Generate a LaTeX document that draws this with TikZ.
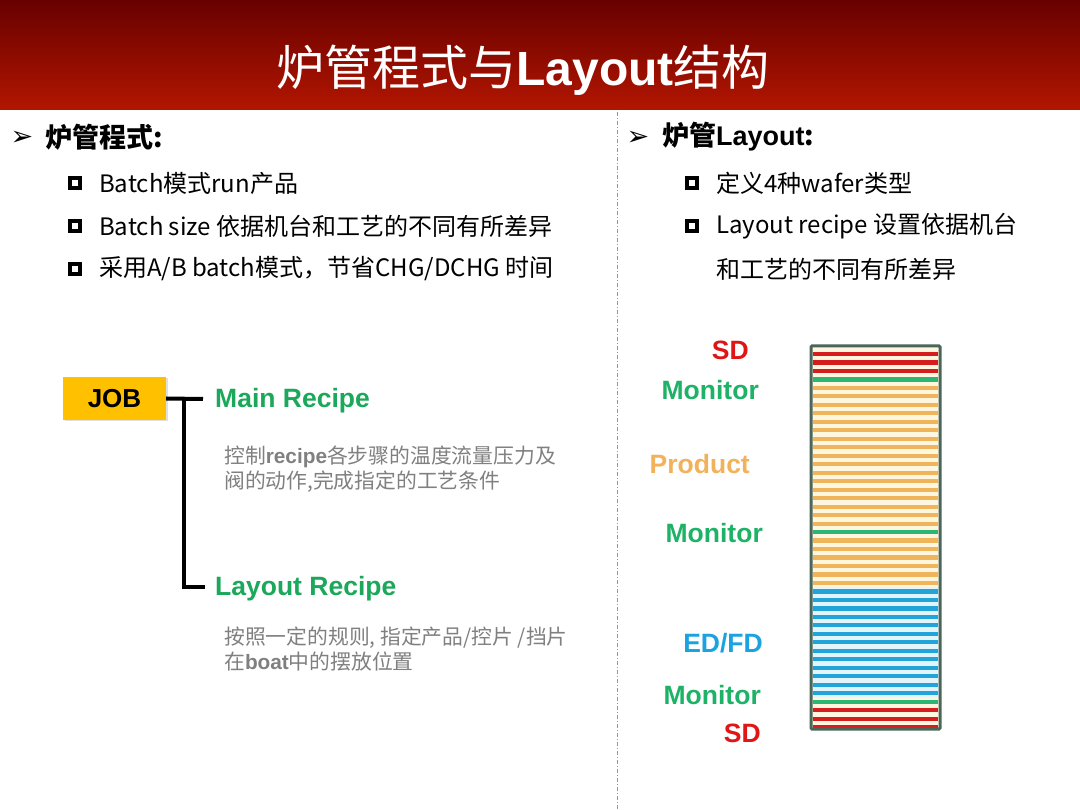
\documentclass[tikz,border=0pt]{standalone}
\usepackage{fontspec}
\setmainfont{Noto Sans CJK SC}
\newfontfamily\arialf{Liberation Sans}
\newfontfamily\dejavu{DejaVu Sans}
\usetikzlibrary{shadows}
\definecolor{titletop}{HTML}{680000}
\definecolor{titlebot}{HTML}{B21600}
\definecolor{jobfill}{HTML}{FFC000}
\definecolor{recgreen}{HTML}{1BA85A}
\definecolor{descgray}{HTML}{808080}
\definecolor{lr}{HTML}{D41E1E}
\definecolor{lg}{HTML}{2BB673}
\definecolor{lo}{HTML}{F0B55C}
\definecolor{lb}{HTML}{22A4D8}
\definecolor{cream}{HTML}{FFF6E0}
\definecolor{lightblue}{HTML}{E2F5FC}
\definecolor{boxc}{HTML}{4A6658}
\definecolor{sdred}{HTML}{E01515}
\definecolor{mongreen}{HTML}{1DB266}
\definecolor{prodorange}{HTML}{F2B25C}
\definecolor{edblue}{HTML}{1BA3E0}
\definecolor{divc}{HTML}{8A9AA6}
\tikzset{
  titletxt/.style={text=white, inner sep=0pt, font=\fontsize{48}{56}\selectfont},
  headtxt/.style={anchor=west, inner sep=0pt, font=\fontsize{27}{32}\selectfont\bfseries},
  arrowb/.style={inner sep=0pt, font=\dejavu\fontsize{27}{30}\selectfont},
  sqb/.style={draw=black, line width=3.6pt, minimum size=10.5pt, inner sep=0pt},
  btxt/.style={anchor=west, inner sep=0pt, font=\fontsize{24}{28}\selectfont},
  jobbox/.style={fill=jobfill, minimum width=103pt, minimum height=43pt, inner sep=0pt,
     font=\arialf\bfseries\fontsize{26}{30}\selectfont,
     drop shadow={shadow xshift=1.5pt, shadow yshift=-1.5pt, opacity=0.25, fill=black!50}},
  rectxt/.style={anchor=west, inner sep=0pt, text=recgreen, font=\arialf\bfseries\fontsize{26.5}{30}\selectfont},
  desctxt/.style={anchor=west, inner sep=0pt, text=descgray, align=left, font=\fontsize{20.8}{25}\selectfont},
  conn/.style={line width=4pt, black},
  lab/.style={anchor=east, inner sep=0pt, font=\arialf\bfseries\fontsize{26.5}{30}\selectfont},
  wline/.style={line width=4.2pt}
}
\begin{document}
\begin{tikzpicture}[x=1pt,y=-1pt]
\useasboundingbox (0,0) rectangle (1080,810);
\fill[white] (0,0) rectangle (1080,810);
% title bar
\shade[top color=titletop, bottom color=titlebot] (0,0) rectangle (1080,110);
\node[titletxt] (title) at (523,70) {炉管程式与{\arialf\bfseries Layout}结构};
% divider
\coordinate (dtop) at (617,112);
\coordinate (dbot) at (617,810);
\draw[divc, line width=0.8pt, dash pattern=on 4pt off 2pt on 1pt off 2pt] (dtop) -- (dbot);
% left column
\node[arrowb] (la) at (22,138) {➢};
\node[headtxt] (lh) at (45,137) {炉管程式:};
\node[sqb] (b1) at (75,183) {};
\node[btxt] (t1) at (99,183) {Batch模式run产品};
\node[sqb] (b2) at (75,226) {};
\node[btxt] (t2) at (99,226) {Batch size 依据机台和工艺的不同有所差异};
\node[sqb] (b3) at (75,269) {};
\node[btxt] (t3) at (99,269) {采用A/B batch模式，节省CHG/DCHG 时间};
% right column
\node[arrowb] (ra) at (638,138) {➢};
\node[headtxt] (rh) at (662,137) {炉管{\arialf\bfseries Layout}:};
\node[sqb] (b4) at (692,183) {};
\node[btxt] (t4) at (716,183) {定义4种wafer类型};
\node[sqb] (b5) at (692,226) {};
\node[btxt] (t5) at (716,226) {Layout recipe 设置依据机台};
\node[btxt] (t6) at (716,269) {和工艺的不同有所差异};
% JOB tree
\node[jobbox] (job) at (114.5,398.5) {JOB};
\node[rectxt] (main) at (215,401) {Main Recipe};
\node[rectxt] (lay) at (215,589) {Layout Recipe};
\node[desctxt] (d1) at (224,469) {控制{\arialf\bfseries recipe}各步骤的温度流量压力及\\阀的动作,完成指定的工艺条件};
\node[desctxt] (d2) at (224,649) {按照一定的规则, 指定产品/控片 /挡片\\在{\arialf\bfseries boat}中的摆放位置};
\coordinate (jm) at (203,399);
\coordinate (vt) at (184,399);
\coordinate (vb) at (184,587);
\coordinate (jl) at (203,587);
\draw[conn] (job.east) -- (jm);
\draw[conn, line cap=rect] (vt) -- (vb) -- (jl);
% wafer stack
\fill[cream] (811,346) rectangle (940,729);
\fill[lightblue] (811,587) rectangle (940,698);
\foreach \c [count=\i from 0] in {lr,lr,lr,lg,lo,lo,lo,lo,lo,lo,lo,lo,lo,lo,lo,lo,lo,lo,lo,lo,lo,lg,lo,lo,lo,lo,lo,lo,lb,lb,lb,lb,lb,lb,lb,lb,lb,lb,lb,lb,lb,lg,lr,lr,lr}
  \draw[wline, color=\c] (813,{354+8.48*\i}) -- (938,{354+8.48*\i});
\draw[boxc, line width=3pt, rounded corners=1pt] (811,346) rectangle (940,729);
% labels
\node[lab, text=sdred] (sd1) at (749,350) {SD};
\node[lab, text=mongreen] (m1) at (759,390) {Monitor};
\node[lab, text=prodorange] (pr) at (750,464) {Product};
\node[lab, text=mongreen] (m2) at (763,533) {Monitor};
\node[lab, text=edblue] (ed) at (763,643) {ED/FD};
\node[lab, text=mongreen] (m3) at (761,695) {Monitor};
\node[lab, text=sdred] (sd2) at (761,733) {SD};
\end{tikzpicture}
\end{document}
